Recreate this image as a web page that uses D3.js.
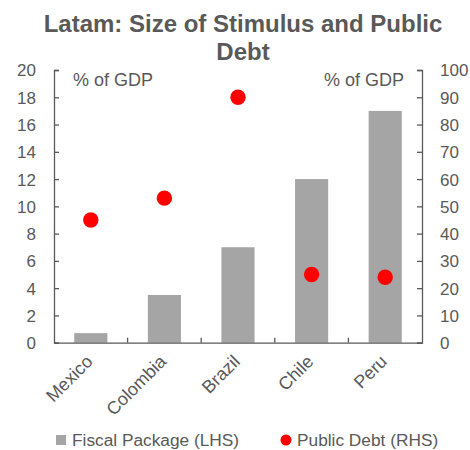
<!DOCTYPE html>
<html><head><meta charset="utf-8">
<script src="https://cdn.jsdelivr.net/npm/d3@7"></script>
<style>body{margin:0;background:#fff}svg{font-family:"Liberation Sans",Arial,sans-serif}</style>
</head><body>
<svg id="c" width="470" height="450"></svg>
<script>
const categories = ["Mexico","Colombia","Brazil","Chile","Peru"];
const fiscalPackage = [0.7, 3.5, 7.0, 12.0, 17.0];
const publicDebt = [45, 53, 90, 25, 24];
const leftTicks = [0,2,4,6,8,10,12,14,16,18,20];
const rightTicks = [0,10,20,30,40,50,60,70,80,90,100];

const svg = d3.select("#c");
const txt = "#595959";
const m = {l:54, r:422, t:70, b:342.7};
const x = d3.scaleBand().domain(categories).range([m.l, m.r]).paddingInner(0).paddingOuter(0);
const yL = d3.scaleLinear().domain([0,20]).range([m.b, m.t]);
const yR = d3.scaleLinear().domain([0,100]).range([m.b, m.t]);

// title
svg.append("text").attr("x",243).attr("y",32).attr("text-anchor","middle")
  .attr("font-size",24).attr("font-weight","bold").attr("fill",txt).text("Latam: Size of Stimulus and Public");
svg.append("text").attr("x",243).attr("y",60).attr("text-anchor","middle")
  .attr("font-size",24).attr("font-weight","bold").attr("fill",txt).text("Debt");

// bars
const bw = x.bandwidth()*0.45;
svg.selectAll("rect.bar").data(categories).join("rect").attr("class","bar")
  .attr("x", d => x(d)+x.bandwidth()/2-bw/2)
  .attr("width", bw)
  .attr("y", (d,i) => yL(fiscalPackage[i]))
  .attr("height", (d,i) => yL(0)-yL(fiscalPackage[i]))
  .attr("fill","#A5A5A5");

// axes
const axL = svg.append("g").attr("transform",`translate(${m.l},0)`)
  .call(d3.axisLeft(yL).tickValues(leftTicks).tickSizeInner(-5).tickSizeOuter(-5).tickPadding(18));
const axR = svg.append("g").attr("transform",`translate(${m.r},0)`)
  .call(d3.axisRight(yR).tickValues(rightTicks).tickSizeInner(-5).tickSizeOuter(-5).tickPadding(18));
const axB = svg.append("g").attr("transform",`translate(0,${m.b})`)
  .call(d3.axisBottom(x).tickSize(0).tickFormat(""));
// category separator ticks
svg.selectAll("line.sep").data(categories.slice(1)).join("line").attr("class","sep")
  .attr("x1", d => x(d)).attr("x2", d => x(d))
  .attr("y1", m.b).attr("y2", m.b-5).attr("stroke","#595959").attr("stroke-width",1.3);

[axL,axR,axB].forEach(a=>{
  a.selectAll("path,line").attr("stroke","#595959").attr("stroke-width",1.3);
  a.selectAll("text").attr("fill",txt).attr("font-size",17).attr("font-family","Liberation Sans, Arial, sans-serif");
});
axL.selectAll("text").attr("dy","0.35em");
axR.selectAll("text").attr("dy","0.35em");

// x labels
svg.selectAll("text.xl").data(categories).join("text").attr("class","xl")
  .attr("transform", d => `translate(${x(d)+x.bandwidth()/2+3},${m.b+20}) rotate(-45)`)
  .attr("text-anchor","end").attr("font-size",18).attr("fill",txt).text(d=>d);

// dots
svg.selectAll("circle.dot").data(categories).join("circle").attr("class","dot")
  .attr("cx", d => x(d)+x.bandwidth()/2)
  .attr("cy", (d,i) => yR(publicDebt[i]))
  .attr("r", 7.7).attr("fill","#FF0000");

// unit labels
svg.append("text").attr("x",73).attr("y",86).attr("font-size",18).attr("fill",txt).text("% of GDP");
svg.append("text").attr("x",404).attr("y",86).attr("text-anchor","end").attr("font-size",18).attr("fill",txt).text("% of GDP");

// legend
svg.append("rect").attr("x",56).attr("y",435).attr("width",10).attr("height",10).attr("fill","#A5A5A5");
svg.append("text").attr("x",72).attr("y",446).attr("font-size",17.3).attr("fill",txt).text("Fiscal Package (LHS)");
svg.append("circle").attr("cx",286).attr("cy",440).attr("r",5.5).attr("fill","#FF0000");
svg.append("text").attr("x",297).attr("y",446).attr("font-size",17.3).attr("fill",txt).text("Public Debt (RHS)");
</script>
</body></html>
